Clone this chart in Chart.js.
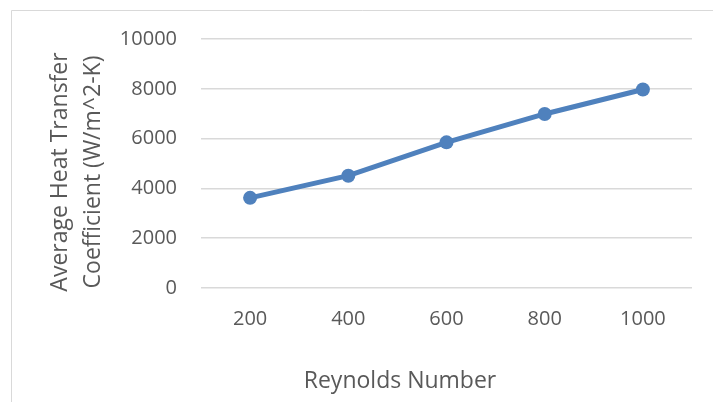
<!DOCTYPE html>
<html>
<head>
<meta charset="utf-8">
<title>Average Heat Transfer Coefficient vs Reynolds Number</title>
<script src="https://cdn.jsdelivr.net/npm/chart.js@4/dist/chart.umd.min.js"></script>
<style>
  html, body { margin: 0; padding: 0; background: #ffffff; }
  #wrap { position: relative; width: 713px; height: 402px; }
</style>
</head>
<body>
<div id="wrap"><canvas id="chart" width="713" height="402"></canvas></div>
<script>
// Reynolds numbers (categories) and the measured average heat transfer coefficient
const reynoldsNumbers = ['200', '400', '600', '800', '1000'];
const heatTransferCoeff = [3620, 4510, 5850, 6990, 7970];

// Value-axis ticks
const yTickValues = [0, 2000, 4000, 6000, 8000, 10000];

const xTitle = 'Reynolds Number';
const yTitleLines = ['Average Heat Transfer', 'Coefficient (W/m^2-K)'];

const FONT = "'Open Sans', 'Liberation Sans', sans-serif";
const TEXT_COLOR = '#595959';
const GRID_COLOR = '#d9d9d9';
const LINE_COLOR = '#4f81bd';

// Outer frame of the chart (left and top edges)
const frame = {
  id: 'frame',
  beforeDraw(chart) {
    const ctx = chart.ctx;
    ctx.save();
    ctx.fillStyle = '#ffffff';
    ctx.fillRect(0, 0, chart.width, chart.height);
    ctx.strokeStyle = GRID_COLOR;
    ctx.lineWidth = 1;
    ctx.beginPath();
    ctx.moveTo(11.5, chart.height);
    ctx.lineTo(11.5, 10.5);
    ctx.lineTo(chart.width, 10.5);
    ctx.stroke();
    ctx.restore();
  }
};

// Axis titles
const axisTitles = {
  id: 'axisTitles',
  afterDraw(chart) {
    const ctx = chart.ctx;
    ctx.save();
    ctx.fillStyle = TEXT_COLOR;
    ctx.font = '23px ' + FONT;
    ctx.textAlign = 'center';
    ctx.textBaseline = 'alphabetic';
    ctx.fillText(xTitle, 400, 388);

    ctx.translate(0, 172);
    ctx.rotate(-Math.PI / 2);
    ctx.fillText(yTitleLines[0], 0, 67);
    ctx.fillText(yTitleLines[1], 0, 100);
    ctx.restore();
  }
};

new Chart(document.getElementById('chart'), {
  type: 'line',
  data: {
    labels: reynoldsNumbers,
    datasets: [{
      data: heatTransferCoeff,
      borderColor: LINE_COLOR,
      backgroundColor: LINE_COLOR,
      borderWidth: 5,
      tension: 0,
      pointRadius: 7,
      pointHoverRadius: 7,
      pointBorderWidth: 0,
      pointBackgroundColor: LINE_COLOR,
      fill: false
    }]
  },
  options: {
    responsive: false,
    animation: false,
    events: [],
    layout: { padding: { top: 39, right: 21, left: 0, bottom: 0 } },
    plugins: {
      legend: { display: false },
      tooltip: { enabled: false },
      title: { display: false }
    },
    scales: {
      x: {
        offset: true,
        grid: { display: false, drawTicks: false },
        border: { display: false },
        ticks: {
          color: TEXT_COLOR,
          font: { family: FONT, size: 20 },
          padding: 19,
          maxRotation: 0
        },
        afterFit(scale) { scale.height = 114; }
      },
      y: {
        min: 0,
        max: 10000,
        afterBuildTicks(scale) {
          scale.ticks = yTickValues.map(v => ({ value: v }));
        },
        grid: { color: GRID_COLOR, lineWidth: 1.5, drawTicks: false },
        border: { display: false },
        ticks: {
          color: TEXT_COLOR,
          font: { family: FONT, size: 20 },
          padding: 24,
          callback: (value) => String(value)
        },
        afterFit(scale) { scale.width = 201; }
      }
    }
  },
  plugins: [frame, axisTitles]
});
</script>
</body>
</html>
